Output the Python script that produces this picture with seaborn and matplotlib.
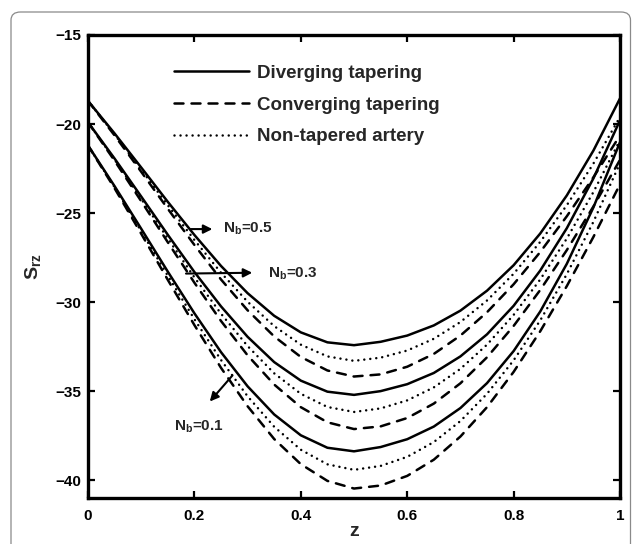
import numpy as np
import pandas as pd
import matplotlib
matplotlib.use("Agg")
import matplotlib.pyplot as plt
from matplotlib.lines import Line2D
from matplotlib.patches import FancyBboxPatch
import seaborn as sns

# axial positions along the artery
z = [0.00, 0.05, 0.10, 0.15, 0.20, 0.25, 0.30, 0.35, 0.40, 0.45, 0.50,
     0.55, 0.60, 0.65, 0.70, 0.75, 0.80, 0.85, 0.90, 0.95, 1.00]

# shear stress S_rz, N_b = 0.5
div_05 = [-18.70, -20.53, -22.44, -24.37, -26.23, -27.97, -29.50, -30.77, -31.70, -32.26, -32.42,
          -32.23, -31.88, -31.31, -30.48, -29.36, -27.93, -26.15, -24.01, -21.49, -18.56]
non_05 = [-18.70, -20.58, -22.56, -24.56, -26.51, -28.35, -29.98, -31.35, -32.39, -33.05, -33.30,
          -33.12, -32.72, -32.06, -31.12, -29.91, -28.41, -26.62, -24.56, -22.22, -19.60]
con_05 = [-18.70, -20.64, -22.68, -24.76, -26.79, -28.73, -30.46, -31.93, -33.08, -33.84, -34.18,
          -34.06, -33.63, -32.91, -31.88, -30.57, -29.00, -27.19, -25.18, -22.99, -20.64]

# shear stress S_rz, N_b = 0.3
div_03 = [-19.90, -21.94, -24.07, -26.22, -28.31, -30.24, -31.95, -33.37, -34.41, -35.03, -35.21,
          -35.00, -34.61, -33.98, -33.05, -31.81, -30.21, -28.23, -25.85, -23.05, -19.79]
non_03 = [-19.90, -22.00, -24.20, -26.43, -28.61, -30.65, -32.47, -34.00, -35.15, -35.89, -36.17,
          -35.97, -35.52, -34.79, -33.75, -32.39, -30.72, -28.73, -26.43, -23.82, -20.90]
con_03 = [-19.90, -22.06, -24.33, -26.64, -28.91, -31.06, -32.99, -34.63, -35.90, -36.75, -37.13,
          -36.98, -36.51, -35.70, -34.56, -33.10, -31.34, -29.32, -27.08, -24.63, -22.01]

# shear stress S_rz, N_b = 0.1
div_01 = [-21.20, -23.49, -25.88, -28.29, -30.63, -32.81, -34.73, -36.31, -37.48, -38.18, -38.38,
          -38.14, -37.70, -36.99, -35.95, -34.55, -32.75, -30.53, -27.85, -24.68, -21.02]
non_01 = [-21.20, -23.55, -26.02, -28.52, -30.96, -33.25, -35.29, -37.00, -38.29, -39.11, -39.42,
          -39.20, -38.69, -37.86, -36.68, -35.15, -33.27, -31.03, -28.43, -25.49, -22.20]
con_01 = [-21.20, -23.61, -26.16, -28.75, -31.29, -33.69, -35.85, -37.69, -39.10, -40.04, -40.47,
          -40.30, -39.76, -38.85, -37.55, -35.90, -33.92, -31.64, -29.10, -26.34, -23.38]

tapers = ["Diverging tapering", "Converging tapering", "Non-tapered artery"]
series = {
    ("0.5", "Diverging tapering"): div_05,
    ("0.5", "Converging tapering"): con_05,
    ("0.5", "Non-tapered artery"): non_05,
    ("0.3", "Diverging tapering"): div_03,
    ("0.3", "Converging tapering"): con_03,
    ("0.3", "Non-tapered artery"): non_03,
    ("0.1", "Diverging tapering"): div_01,
    ("0.1", "Converging tapering"): con_01,
    ("0.1", "Non-tapered artery"): non_01,
}

xticks = [0, 0.2, 0.4, 0.6, 0.8, 1]
xtick_labels = ["0", "0.2", "0.4", "0.6", "0.8", "1"]
yticks = [-15, -20, -25, -30, -35, -40]

rows = []
for (nb, tp), vals in series.items():
    for zi, si in zip(z, vals):
        rows.append({"z": zi, "S": si, "Nb": nb, "taper": tp})
df = pd.DataFrame(rows)

sns.set_theme(style="ticks")
plt.rcParams["font.family"] = ["Liberation Sans", "DejaVu Sans"]
plt.rcParams["mathtext.fontset"] = "custom"
plt.rcParams["mathtext.rm"] = "Liberation Sans"
plt.rcParams["mathtext.bf"] = "Liberation Sans:bold"
plt.rcParams["mathtext.it"] = "Liberation Sans:italic"

fig = plt.figure(figsize=(6.33, 5.44), dpi=100)
ax = fig.add_axes([0.139, 0.0846, 0.8405, 0.8511])

lw = 1.8
dash_dashed = (3.6, 3.2)
dash_dotted = (0.01, 2.4)
dash_styles = {
    "Diverging tapering": "",
    "Converging tapering": dash_dashed,
    "Non-tapered artery": dash_dotted,
}
sns.lineplot(data=df, x="z", y="S", style="taper", units="Nb", estimator=None,
             dashes=dash_styles, color="black", linewidth=lw, legend=False,
             sort=False, ax=ax)
for line in ax.get_lines():
    line.set_dash_capstyle("round")
    line.set_solid_joinstyle("round")

ax.set_xlim(0, 1)
ax.set_ylim(-41, -15)
ax.set_xticks(xticks)
ax.set_xticklabels(xtick_labels)
ax.set_yticks(yticks)
for lab in ax.get_xticklabels() + ax.get_yticklabels():
    lab.set_fontweight("bold")
    lab.set_fontsize(11)
ax.tick_params(direction="in", length=5, width=1.6, top=True, right=True,
               colors="black")
ax.tick_params(axis="x", pad=8)
ax.tick_params(axis="y", pad=5)
for sp in ax.spines.values():
    sp.set_visible(True)
    sp.set_linewidth(2.4)
    sp.set_color("black")

ax.set_xlabel("z", fontsize=14, fontweight="bold", labelpad=0)
ax.set_ylabel(r"S$_{\mathbf{rz}}$", fontsize=14, fontweight="bold", labelpad=9)

handles = [Line2D([0], [0], color="black", lw=lw, linestyle="-"),
           Line2D([0], [0], color="black", lw=lw, dashes=dash_dashed,
                  dash_capstyle="round"),
           Line2D([0], [0], color="black", lw=lw, dashes=dash_dotted,
                  dash_capstyle="round")]
ax.legend(handles, tapers, loc="upper left", bbox_to_anchor=(0.13, 0.972),
          frameon=False, handlelength=4.0, handletextpad=0.45,
          labelspacing=0.78, prop={"weight": "bold", "size": 13.5})

arrow = dict(arrowstyle="-|>", color="black", lw=1.5, mutation_scale=13)
ax.annotate("", xy=(0.239, -25.9), xytext=(0.188, -25.9), arrowprops=arrow)
ax.text(0.254, -25.9, r"$\mathbf{N_b}$=0.5", fontsize=11, fontweight="bold",
        va="center", ha="left")
ax.annotate("", xy=(0.314, -28.35), xytext=(0.179, -28.4), arrowprops=arrow)
ax.text(0.338, -28.4, r"$\mathbf{N_b}$=0.3", fontsize=11, fontweight="bold",
        va="center", ha="left")
ax.annotate("", xy=(0.2255, -35.7), xytext=(0.275, -34.0), arrowprops=arrow)
ax.text(0.162, -37.0, r"$\mathbf{N_b}$=0.1", fontsize=11, fontweight="bold",
        va="center", ha="left")

# rounded panel border
border = FancyBboxPatch((11 / 633, -0.05), 619.5 / 633, 1.05 - 12 / 544,
                        boxstyle="round,pad=0,rounding_size=0.015",
                        transform=fig.transFigure, fill=False,
                        edgecolor="#8a8a8a", lw=0.9, clip_on=False)
fig.patches.append(border)

fig.savefig("out.png", dpi=100)
